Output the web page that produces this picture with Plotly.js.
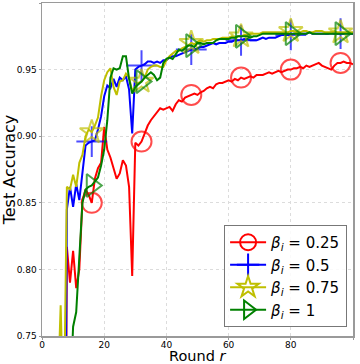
<!DOCTYPE html>
<html>
<head>
<meta charset="utf-8">
<script src="https://cdn.plot.ly/plotly-3.0.1.min.js"></script>
<style>
  html, body { margin: 0; padding: 0; background: #fff; }
  #chart { width: 360px; height: 364px; }
</style>
</head>
<body>
<div id="chart"></div>
<script>
"use strict";

// rounds 1..100
const rounds = Array.from({ length: 100 }, (_, i) => i + 1);
const markRounds = [16, 32, 48, 64, 80, 96];

const acc025 = [
  0.40, 0.40, 0.40, 0.40, 0.40, 0.40, 0.40, 0.817, 0.790, 0.814,
  0.786, 0.800, 0.852, 0.860, 0.856, 0.850, 0.868, 0.876, 0.880, 0.907,
  0.890, 0.884, 0.876, 0.868, 0.872, 0.882, 0.878, 0.862, 0.795, 0.895,
  0.893, 0.896, 0.902, 0.908, 0.912, 0.915, 0.918, 0.921, 0.920, 0.921,
  0.922, 0.919, 0.924, 0.927, 0.926, 0.929, 0.930, 0.931, 0.932, 0.931,
  0.933, 0.934, 0.936, 0.937, 0.936, 0.939, 0.940, 0.940, 0.941, 0.942,
  0.941, 0.943, 0.942, 0.944, 0.943, 0.944, 0.945, 0.944, 0.946, 0.946,
  0.946, 0.947, 0.948, 0.947, 0.948, 0.949, 0.948, 0.949, 0.950, 0.950,
  0.951, 0.951, 0.952, 0.951, 0.953, 0.952, 0.953, 0.954, 0.955, 0.953,
  0.952, 0.951, 0.950, 0.953, 0.955, 0.955, 0.956, 0.955, 0.955, 0.954
];
const acc05 = [
  0.40, 0.40, 0.40, 0.40, 0.40, 0.40, 0.40, 0.845, 0.862, 0.847,
  0.864, 0.852, 0.875, 0.893, 0.895, 0.896, 0.897, 0.905, 0.915, 0.930,
  0.938, 0.936, 0.943, 0.937, 0.944, 0.942, 0.945, 0.935, 0.902, 0.950,
  0.952, 0.953, 0.954, 0.956, 0.956, 0.955, 0.956, 0.955, 0.957, 0.957,
  0.959, 0.960, 0.960, 0.961, 0.962, 0.963, 0.964, 0.965, 0.965, 0.966,
  0.967, 0.967, 0.968, 0.969, 0.970, 0.969, 0.970, 0.970, 0.970, 0.971,
  0.971, 0.972, 0.972, 0.972, 0.973, 0.973, 0.972, 0.972, 0.972, 0.973,
  0.974, 0.973, 0.974, 0.974, 0.974, 0.975, 0.976, 0.976, 0.976, 0.976,
  0.977, 0.976, 0.977, 0.977, 0.977, 0.978, 0.977, 0.977, 0.977, 0.977,
  0.977, 0.977, 0.978, 0.977, 0.977, 0.977, 0.977, 0.978, 0.977, 0.977
];
const acc075 = [
  0.40, 0.40, 0.40, 0.40, 0.70, 0.773, 0.68, 0.862, 0.860, 0.871,
  0.862, 0.880, 0.886, 0.900, 0.905, 0.903, 0.908, 0.914, 0.930, 0.942,
  0.948, 0.951, 0.937, 0.931, 0.941, 0.942, 0.947, 0.944, 0.934, 0.937,
  0.940, 0.941, 0.944, 0.950, 0.952, 0.953, 0.953, 0.952, 0.952, 0.957,
  0.960, 0.962, 0.964, 0.964, 0.966, 0.967, 0.968, 0.970, 0.969, 0.971,
  0.972, 0.971, 0.972, 0.972, 0.973, 0.973, 0.973, 0.974, 0.974, 0.974,
  0.975, 0.974, 0.975, 0.975, 0.976, 0.976, 0.977, 0.977, 0.977, 0.977,
  0.978, 0.978, 0.978, 0.978, 0.978, 0.978, 0.978, 0.978, 0.978, 0.979,
  0.979, 0.978, 0.978, 0.979, 0.979, 0.978, 0.978, 0.979, 0.979, 0.979,
  0.978, 0.978, 0.978, 0.979, 0.978, 0.978, 0.978, 0.978, 0.978, 0.978
];
const acc1 = [
  0.40, 0.40, 0.40, 0.40, 0.40, 0.40, 0.40, 0.40, 0.70, 0.757,
  0.768, 0.810, 0.850, 0.860, 0.862, 0.863, 0.866, 0.869, 0.878, 0.890,
  0.912, 0.944, 0.951, 0.950, 0.951, 0.960, 0.960, 0.943, 0.932, 0.937,
  0.939, 0.941, 0.944, 0.946, 0.948, 0.946, 0.942, 0.944, 0.955, 0.958,
  0.959, 0.958, 0.962, 0.965, 0.964, 0.966, 0.968, 0.968, 0.967, 0.970,
  0.970, 0.969, 0.970, 0.970, 0.970, 0.972, 0.973, 0.973, 0.973, 0.973,
  0.974, 0.974, 0.975, 0.975, 0.975, 0.975, 0.974, 0.975, 0.975, 0.976,
  0.977, 0.977, 0.977, 0.977, 0.977, 0.977, 0.977, 0.977, 0.977, 0.977,
  0.977, 0.977, 0.977, 0.977, 0.977, 0.978, 0.977, 0.977, 0.977, 0.977,
  0.977, 0.977, 0.977, 0.977, 0.977, 0.977, 0.977, 0.977, 0.977, 0.977
];

const seriesNames = [
  "<i>β</i><sub><i>i</i></sub> = 0.25",
  "<i>β</i><sub><i>i</i></sub> = 0.5",
  "<i>β</i><sub><i>i</i></sub> = 0.75",
  "<i>β</i><sub><i>i</i></sub> = 1"
];
const seriesValues = [acc025, acc05, acc075, acc1];
const colors = ["#ff0000", "#0000ff", "#bfbf00", "#008000"];
const symbols = ["circle-open", "cross-thin-open", "star-open", "triangle-right-open"];
const markSizes = [20, 22, 18, 20];

const traces = [];
seriesValues.forEach((vals, k) => {
  const sizes = rounds.map(r => (markRounds.includes(r) ? markSizes[k] : 0));
  traces.push({
    type: "scatter",
    mode: "lines+markers",
    x: rounds,
    y: vals,
    showlegend: false,
    hoverinfo: "skip",
    line: { color: colors[k], width: 2 },
    marker: {
      symbol: symbols[k],
      size: sizes,
      color: colors[k],
      line: { color: colors[k], width: 2 },
    },
  });
});
// legend entries
seriesValues.forEach((_, k) => {
  traces.push({
    type: "scatter",
    mode: "lines+markers",
    x: [null],
    y: [null],
    name: seriesNames[k],
    line: { color: colors[k], width: 2 },
    marker: {
      symbol: symbols[k],
      size: 16,
      color: colors[k],
      line: { color: colors[k], width: 2 },
    },
  });
});

const axisCommon = {
  showline: true,
  mirror: true,
  linecolor: "#9a9a9a",
  linewidth: 1.5,
  ticks: "outside",
  ticklen: 2,
  tickcolor: "#9a9a9a",
  showgrid: true,
  gridcolor: "#dcdcdc",
  griddash: "dot",
  gridwidth: 1,
  zeroline: false,
  tickfont: { family: "DejaVu Sans", size: 9, color: "#000" },
};

const layout = {
  width: 360,
  height: 364,
  margin: { l: 42, r: 7, t: 3, b: 28 },
  paper_bgcolor: "#fff",
  plot_bgcolor: "#fff",
  font: { family: "DejaVu Sans", color: "#000" },
  xaxis: Object.assign({}, axisCommon, {
    range: [0, 100],
    tickvals: [0, 20, 40, 60, 80, 100],
    ticklabelstandoff: -2,
  }),
  yaxis: Object.assign({}, axisCommon, {
    range: [0.75, 1.0],
    tickvals: [0.75, 0.80, 0.85, 0.90, 0.95, 1.00],
    tickformat: ".2f",
    title: { text: "Test Accuracy", font: { size: 16 }, standoff: 5 },
  }),
  annotations: [{
    text: "Round <i>r</i>",
    xref: "paper", yref: "paper",
    x: 0.5, y: 0,
    xanchor: "center", yanchor: "top",
    yshift: -10,
    showarrow: false,
    font: { family: "DejaVu Sans", size: 14.5, color: "#000" },
  }],
  showlegend: true,
  legend: {
    x: 0.981,
    y: 0.027,
    xanchor: "right",
    yanchor: "bottom",
    bgcolor: "rgba(255,255,255,0.85)",
    bordercolor: "#777",
    borderwidth: 1,
    font: { family: "DejaVu Sans", size: 15 },
    itemwidth: 36,
    tracegroupgap: 0,
  },
};

Plotly.newPlot("chart", traces, layout, { displayModeBar: false, staticPlot: true });
</script>
</body>
</html>
